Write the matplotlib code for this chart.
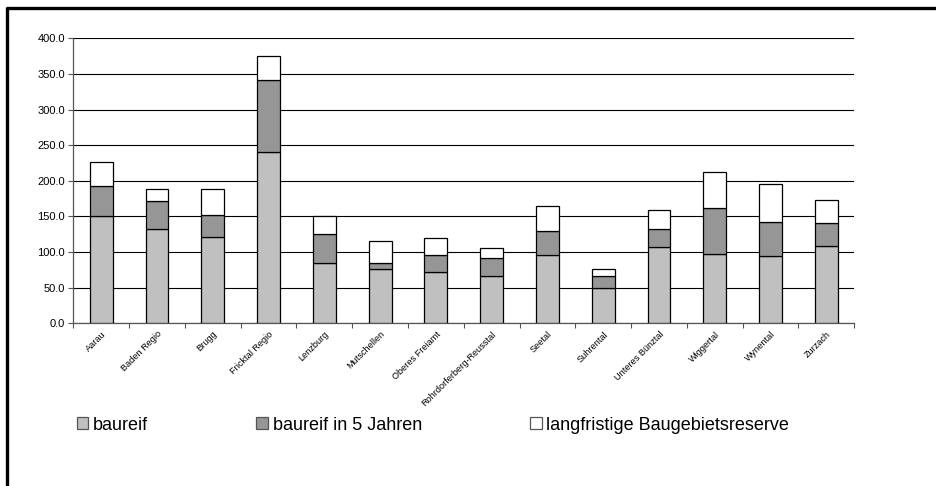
import matplotlib
matplotlib.use("Agg")
import matplotlib.pyplot as plt
import numpy as np
from matplotlib.lines import Line2D
from matplotlib.patches import Patch

plt.rcParams["font.family"] = ["Liberation Sans", "DejaVu Sans"]

regions = [
    "Aarau", "Baden Regio", "Brugg", "Fricktal Regio", "Lenzburg",
    "Mutschellen", "Oberes Freiamt", "Rohrdorferberg-Reusstal", "Seetal",
    "Suhrental", "Unteres Bünztal", "Wiggertal", "Wynental", "Zurzach",
]
baureif = [151, 132, 121, 241, 85, 76, 72, 66, 96, 50, 107, 97, 95, 108]
baureif_5j = [41, 39, 31, 101, 40, 9, 24, 25, 33, 16, 25, 65, 47, 33]
reserve = [34, 17, 36, 33, 26, 31, 24, 14, 35, 10, 27, 50, 53, 32]

series_names = ["baureif", "baureif in 5 Jahren", "langfristige Baugebietsreserve"]
series_colors = ["#C0C0C0", "#969696", "#FFFFFF"]
y_ticks = [0, 50, 100, 150, 200, 250, 300, 350, 400]

fig = plt.figure(figsize=(9.37, 4.86), dpi=100)
ax = fig.add_axes([0.0782, 0.3348, 0.8335, 0.5864])

x = np.arange(len(regions))
bottom = np.zeros(len(regions))
for vals, color in zip([baureif, baureif_5j, reserve], series_colors):
    ax.bar(x, vals, width=0.41, bottom=bottom, color=color,
           edgecolor="black", linewidth=0.9, zorder=3)
    bottom += np.array(vals)

ax.set_xlim(-0.5, len(regions) - 0.5)
ax.set_ylim(0, 400)
ax.set_yticks(y_ticks)
ax.set_yticklabels([f"{v:.1f}" for v in y_ticks], fontsize=8)
ax.yaxis.grid(True, color="black", linewidth=0.8, zorder=0)
ax.tick_params(axis="y", direction="out", length=3.5, width=0.8,
               color="#555555", pad=2.5)

# category labels at bar centres, tick marks at category boundaries
ax.set_xticks(x)
ax.set_xticklabels(regions, rotation=45, ha="right", va="top",
                   rotation_mode="anchor", fontsize=6.6)
ax.tick_params(axis="x", which="major", length=0, pad=4.5)
ax.set_xticks(np.arange(-0.5, len(regions)), minor=True)
ax.tick_params(axis="x", which="minor", direction="out", length=3.5,
               width=0.8, color="#555555")

for side in ("top", "right"):
    ax.spines[side].set_visible(False)
for side in ("left", "bottom"):
    ax.spines[side].set_color("#555555")
    ax.spines[side].set_linewidth(0.9)
ax.spines["left"].set_zorder(4)

handles = [Patch(facecolor=c, edgecolor="#555555", linewidth=0.9)
           for c in series_colors]
fig.legend(handles, series_names, loc="center left",
           bbox_to_anchor=(0.074, 1 - 425 / 486), ncol=3, frameon=False,
           fontsize=13, handlelength=0.65, handleheight=0.65,
           handletextpad=0.25, columnspacing=6.0, borderaxespad=0)

# outer frame (left and top edges)
y_top = 1 - 8.5 / 486
x_left = 7 / 937
fig.add_artist(Line2D([x_left, x_left, 1.0], [0.0, y_top, y_top],
                      transform=fig.transFigure, color="black", linewidth=2.4))

fig.savefig("out.png", dpi=100, facecolor="white")
